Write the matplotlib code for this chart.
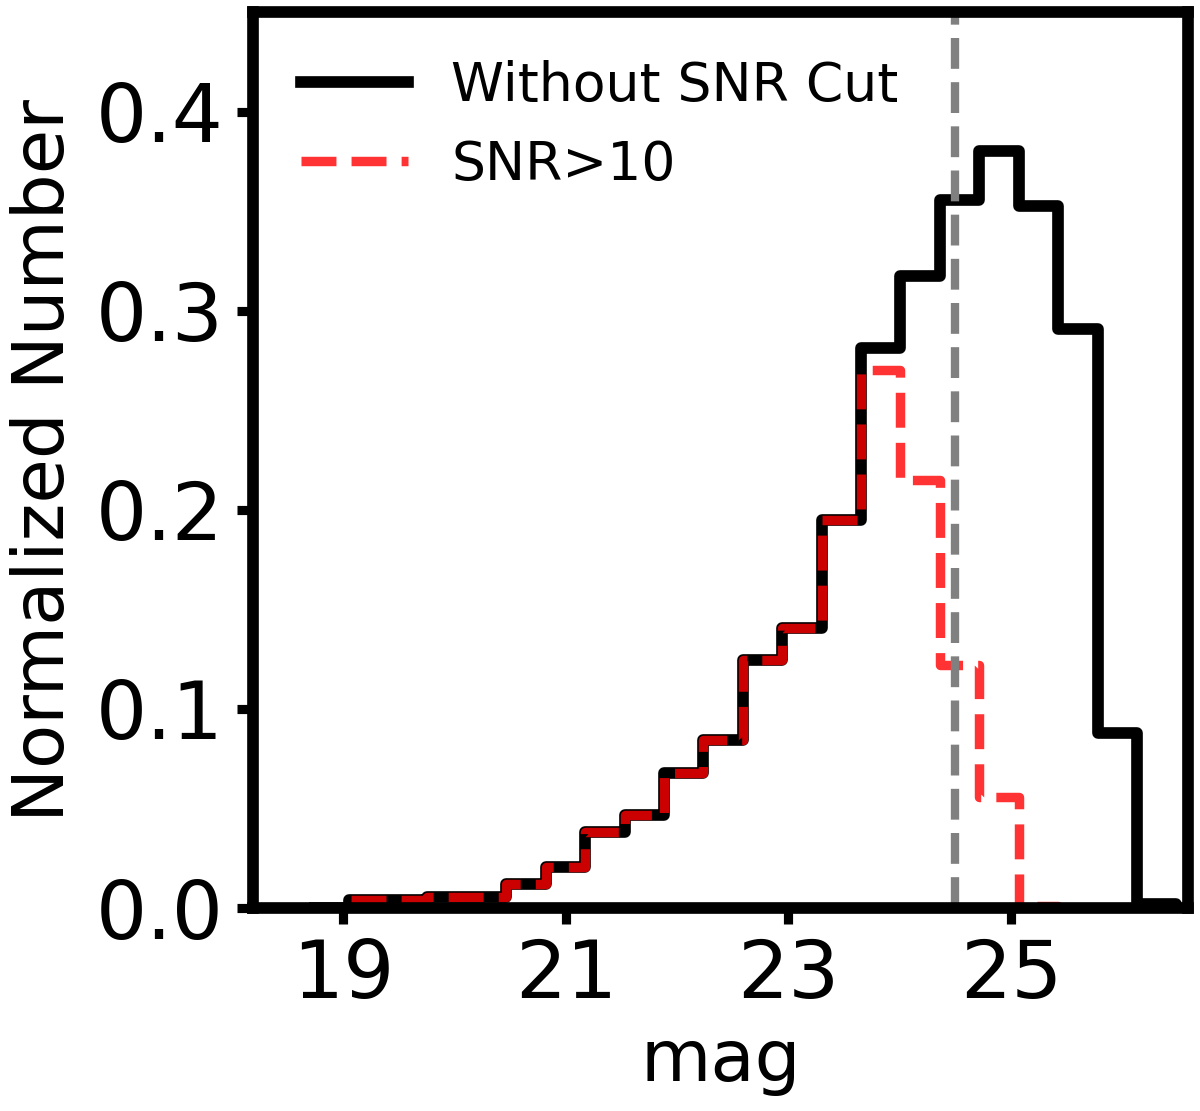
import numpy as np
import matplotlib
matplotlib.use("Agg")
import matplotlib.pyplot as plt

# bin edges (mag)
edges = [18.695, 19.049, 19.403, 19.757, 20.111, 20.466, 20.820, 21.174,
         21.528, 21.882, 22.236, 22.590, 22.944, 23.298, 23.652, 24.007,
         24.361, 24.715, 25.069, 25.423, 25.777, 26.131, 26.485]

# normalized counts, all sources
all_values = [0.0, 0.004, 0.004, 0.0055, 0.0055, 0.012, 0.0205, 0.038,
              0.0467, 0.068, 0.0843, 0.1244, 0.1405, 0.1947, 0.2815, 0.3176,
              0.3557, 0.380, 0.3524, 0.291, 0.088, 0.002]

# normalized counts, SNR>10
snr_values = [0.0, 0.004, 0.004, 0.0055, 0.0055, 0.012, 0.0205, 0.038,
              0.0467, 0.068, 0.0843, 0.1244, 0.1405, 0.1947, 0.270, 0.2148,
              0.122, 0.0557, 0.001, 0.0, 0.0, 0.0]

cut_mag = 24.5
xticks = [19, 21, 23, 25]
yticks = [0.0, 0.1, 0.2, 0.3, 0.4]

fig = plt.figure(figsize=(6, 5.555), dpi=200)
ax = fig.add_axes([0.2108, 0.1827, 0.7792, 0.8065])

ax.stairs(all_values, edges, color='black', linewidth=4.2, joinstyle='round',
          label='Without SNR Cut')
ax.stairs(snr_values, edges, color='red', alpha=0.8, linewidth=3.4,
          linestyle='--', joinstyle='round', label='SNR>10')
ax.axvline(cut_mag, color='gray', linestyle='--', linewidth=3)

ax.set_xlim(18.19, 26.59)
ax.set_ylim(0, 0.45)
ax.set_xticks(xticks)
ax.set_xticklabels([str(t) for t in xticks])
ax.set_yticks(yticks)
ax.set_yticklabels([f"{t:.1f}" for t in yticks])

for s in ax.spines.values():
    s.set_linewidth(4.2)
ax.tick_params(axis='both', direction='out', length=5.6, width=3.3,
               labelsize=29, pad=5)

ax.set_xlabel('mag', fontsize=26, labelpad=4)
ax.set_ylabel('Normalized Number', fontsize=26, labelpad=6)

ax.legend(loc='upper left', frameon=False, fontsize=19.3)

fig.savefig('out.png', dpi=200)
